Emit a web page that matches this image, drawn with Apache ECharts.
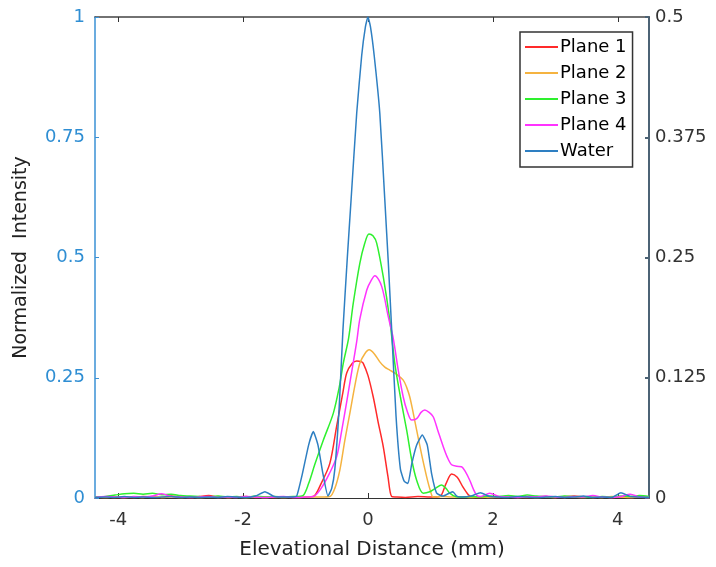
<!DOCTYPE html>
<html><head><meta charset="utf-8">
<script src="https://cdn.jsdelivr.net/npm/echarts@6/dist/echarts.min.js"></script>
<style>html,body{margin:0;padding:0;background:#fff}#c{width:716px;height:567px}</style>
</head><body><div id="c"></div>
<script>
// ---- tick labels ----
const xTicks = [-4, -2, 0, 2, 4];
const seriesNames = ['Plane 1', 'Plane 2', 'Plane 3', 'Plane 4', 'Water'];

// ---- shared tail grids (low-level noise) ----
const leftTailX  = [-4.37,-4.2,-4.05,-3.9,-3.75,-3.6,-3.45,-3.3,-3.15,-3.0,-2.85,-2.7,-2.55,-2.4,-2.25,-2.1,-1.95,-1.8,-1.65,-1.5,-1.35,-1.2];
const rightTailX = [1.5,1.65,1.8,1.95,2.1,2.25,2.4,2.55,2.7,2.85,3.0,3.15,3.3,3.45,3.6,3.75,3.9,4.05,4.2,4.35,4.5];

// ---- Plane 1 ----
const p1LeftY  = [0.001,0.002,0.001,0.002,0.001,0.003,0.002,0.001,0.004,0.002,0.001,0.003,0.005,0.002,0.001,0.002,0.003,0.001,0.002,0.001,0.002,0.001];
const p1CoreX  = [-1.0,-0.875,-0.75,-0.61,-0.5,-0.4,-0.34,-0.25,-0.18,-0.1,-0.075,0,0.085,0.16,0.245,0.32,0.38,0.45,0.6,0.8,1.0,1.15,1.25,1.34,1.43,1.52,1.6,1.66];
const p1CoreY  = [0.002,0.003,0.03,0.072,0.15,0.22,0.26,0.28,0.285,0.283,0.28,0.255,0.21,0.16,0.107,0.045,0.003,0.002,0.001,0.003,0.002,0.003,0.03,0.05,0.043,0.023,0.008,0.002];
const p1RightY = [0.001,0.002,0.001,0.002,0.001,0.003,0.002,0.001,0.002,0.003,0.001,0.002,0.004,0.002,0.001,0.002,0.001,0.002,0.001,0.002,0.001];

// ---- Plane 2 ----
const p2LeftY  = [0.002,0.001,0.002,0.001,0.002,0.001,0.003,0.001,0.002,0.001,0.002,0.001,0.002,0.003,0.001,0.002,0.001,0.002,0.001,0.002,0.001,0.002];
const p2CoreX  = [-0.75,-0.61,-0.53,-0.45,-0.37,-0.29,-0.2,-0.13,-0.05,0.02,0.1,0.19,0.27,0.35,0.45,0.565,0.62,0.67,0.72,0.78,0.86,0.94,1.0,1.045,1.2,1.35];
const p2CoreY  = [0.002,0.003,0.02,0.058,0.12,0.176,0.24,0.28,0.3,0.308,0.3,0.283,0.272,0.266,0.258,0.245,0.23,0.21,0.18,0.141,0.09,0.044,0.015,0.002,0.003,0.002];
const p2RightY = [0.002,0.001,0.002,0.001,0.002,0.003,0.001,0.002,0.001,0.002,0.001,0.003,0.002,0.001,0.002,0.001,0.003,0.002,0.001,0.002,0.002];

// ---- Plane 3 ----
const p3LeftY  = [0.002,0.003,0.006,0.009,0.01,0.008,0.01,0.007,0.008,0.005,0.004,0.003,0.002,0.004,0.002,0.003,0.001,0.004,0.002,0.003,0.002,0.003];
const p3CoreX  = [-1.15,-1.04,-0.95,-0.85,-0.715,-0.555,-0.46,-0.395,-0.31,-0.235,-0.13,-0.05,0.016,0.08,0.14,0.245,0.35,0.43,0.52,0.62,0.7,0.78,0.885,0.99,1.08,1.18,1.25,1.31,1.4];
const p3CoreY  = [0.003,0.005,0.03,0.07,0.12,0.176,0.23,0.28,0.332,0.405,0.488,0.53,0.549,0.545,0.53,0.46,0.37,0.28,0.21,0.141,0.08,0.037,0.01,0.013,0.02,0.027,0.02,0.01,0.003];
const p3RightY = [0.002,0.003,0.002,0.004,0.003,0.005,0.003,0.006,0.004,0.003,0.002,0.004,0.003,0.002,0.001,0.003,0.002,0.004,0.003,0.005,0.003];

// ---- Plane 4 ----
const p4LeftY  = [0.001,0.003,0.002,0.001,0.003,0.002,0.004,0.009,0.003,0.002,0.001,0.002,0.003,0.001,0.002,0.001,0.003,0.002,0.001,0.002,0.003,0.001];
const p4CoreX  = [-1.0,-0.875,-0.75,-0.62,-0.5,-0.42,-0.34,-0.25,-0.18,-0.13,-0.02,0.05,0.112,0.22,0.325,0.405,0.48,0.565,0.63,0.7,0.78,0.85,0.91,0.98,1.045,1.12,1.205,1.27,1.34,1.42,1.5,1.56,1.63,1.69,1.74,1.8];
const p4CoreY  = [0.002,0.003,0.02,0.05,0.086,0.14,0.2,0.27,0.325,0.372,0.432,0.452,0.462,0.44,0.377,0.332,0.27,0.21,0.18,0.162,0.165,0.178,0.183,0.178,0.169,0.14,0.107,0.085,0.069,0.066,0.065,0.055,0.037,0.018,0.006,0.003];
const p4RightY = [0.003,0.002,0.004,0.01,0.003,0.002,0.001,0.003,0.002,0.004,0.002,0.001,0.003,0.002,0.005,0.002,0.001,0.003,0.008,0.002,0.001];

// ---- Water ----
const wLeftY   = [0.001,0.002,0.001,0.003,0.001,0.002,0.001,0.002,0.003,0.001,0.002,0.001,0.002,0.001,0.003,0.002,0.001,0.004,0.013,0.003,0.002,0.002];
const wCoreX   = [-1.14,-1.05,-0.95,-0.875,-0.8,-0.72,-0.64,-0.58,-0.53,-0.46,-0.4,-0.33,-0.27,-0.18,-0.1,-0.04,0,0.04,0.1,0.19,0.27,0.33,0.38,0.45,0.52,0.58,0.64,0.7,0.78,0.87,0.95,1.02,1.1,1.2,1.3,1.36,1.42];
const wCoreY   = [0.004,0.05,0.11,0.138,0.11,0.05,0.004,0.02,0.06,0.19,0.35,0.5,0.62,0.8,0.92,0.98,1.0,0.98,0.92,0.8,0.62,0.48,0.35,0.17,0.06,0.035,0.03,0.07,0.11,0.131,0.11,0.05,0.01,0.004,0.01,0.013,0.004];
const wRightY  = [0.002,0.004,0.011,0.003,0.002,0.001,0.003,0.002,0.001,0.002,0.003,0.001,0.002,0.004,0.001,0.002,0.001,0.011,0.003,0.002,0.001];

const colors = ['#ff2a2a', '#f5b340', '#2ef02e', '#ff33ff', '#2e7fc2'];

function build(leftY, coreX, coreY, rightY) {
  const out = [];
  leftTailX.forEach((x, i) => { if (x < coreX[0]) out.push([x, leftY[i]]); });
  coreX.forEach((x, i) => out.push([x, coreY[i]]));
  const last = coreX[coreX.length - 1];
  rightTailX.forEach((x, i) => { if (x > last) out.push([x, rightY[i]]); });
  return out;
}
const allData = [
  build(p1LeftY, p1CoreX, p1CoreY, p1RightY),
  build(p2LeftY, p2CoreX, p2CoreY, p2RightY),
  build(p3LeftY, p3CoreX, p3CoreY, p3RightY),
  build(p4LeftY, p4CoreX, p4CoreY, p4RightY),
  build(wLeftY, wCoreX, wCoreY, wRightY)
];

const FONT = 'DejaVu Sans';
const lineIcon = 'path://M0,0h33v2h-33z';
const chart = echarts.init(document.getElementById('c'), null, {renderer: 'canvas'});
chart.setOption({
  animation: false,
  textStyle: {fontFamily: FONT},
  grid: {left: 95, right: 67, top: 17, bottom: 69, containLabel: false},
  legend: {
    orient: 'vertical', left: 520, top: 32,
    padding: [6, 6, 7, 5], itemGap: 8, itemWidth: 33, itemHeight: 18,
    borderColor: '#333', borderWidth: 1.5, backgroundColor: '#fff',
    textStyle: {fontFamily: FONT, fontSize: 18, color: '#000', padding: [0, 0, 0, -3]},
    data: seriesNames.map(n => ({name: n, icon: lineIcon}))
  },
  xAxis: [{
    type: 'value', position: 'bottom', min: -4.37, max: 4.5,
    axisLine: {onZero: false, lineStyle: {color: '#333', width: 1}},
    axisTick: {inside: true, length: 5, customValues: xTicks, lineStyle: {color: '#333'}},
    axisLabel: {customValues: xTicks, fontSize: 18, color: '#333', margin: 13, fontFamily: FONT},
    splitLine: {show: false},
    name: 'Elevational Distance (mm)', nameLocation: 'middle', nameGap: 42,
    nameTextStyle: {fontSize: 20, color: '#222', fontFamily: FONT}
  }, {
    type: 'value', position: 'top', min: -4.37, max: 4.5,
    axisLine: {onZero: false, lineStyle: {color: '#444', width: 1.5}},
    axisTick: {inside: true, length: 5, customValues: xTicks, lineStyle: {color: '#333'}},
    axisLabel: {show: false},
    splitLine: {show: false}
  }],
  yAxis: [{
    type: 'value', position: 'left', min: 0, max: 1, interval: 0.25,
    axisLine: {show: true, onZero: false, lineStyle: {color: '#3a90d4', width: 1.5}},
    axisTick: {show: true, inside: true, length: 4, lineStyle: {color: '#3a90d4'}},
    axisLabel: {fontSize: 18, color: '#2f8ed3', margin: 10, fontFamily: FONT},
    splitLine: {show: false},
    name: 'Normalized  Intensity', nameLocation: 'middle', nameRotate: 90, nameGap: 64,
    nameTextStyle: {fontSize: 19, color: '#222', fontFamily: FONT}
  }, {
    type: 'value', position: 'right', min: 0, max: 0.5, interval: 0.125,
    axisLine: {show: true, onZero: false, lineStyle: {color: '#4c6375', width: 2}},
    axisTick: {show: true, inside: true, length: 4, lineStyle: {color: '#4c6375', width: 2}},
    axisLabel: {fontSize: 18, color: '#333', margin: 6, fontFamily: FONT},
    splitLine: {show: false}
  }],
  series: seriesNames.map((n, i) => ({
    name: n, type: 'line', xAxisIndex: 0, yAxisIndex: 0,
    data: allData[i], symbol: 'none', smooth: i === 4 ? 0.15 : 0.3,
    lineStyle: {color: colors[i], width: 1.5}, itemStyle: {color: colors[i]}
  }))
});
</script></body></html>
